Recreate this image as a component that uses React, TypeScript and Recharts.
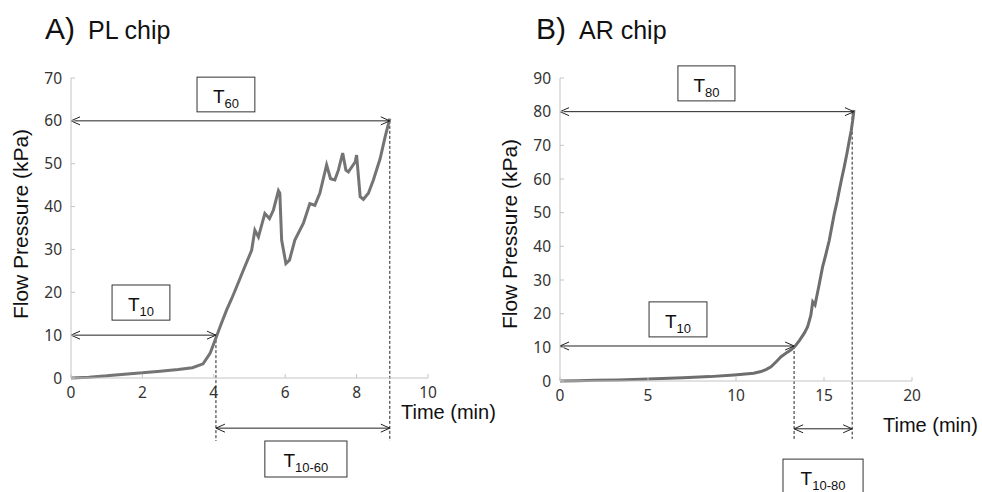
import React from 'react';
import {
  LineChart, Line, XAxis, YAxis, ReferenceLine, ReferenceArea,
} from 'recharts';

// A) PL chip
const plTime = [0, 0.5, 1, 1.5, 2, 2.5, 3, 3.4, 3.7, 3.9, 4.08, 4.2, 4.36, 4.5, 4.64, 4.83, 5.06, 5.15, 5.25, 5.43, 5.56, 5.67, 5.81, 5.85, 5.9, 6.02, 6.12, 6.27, 6.51, 6.69, 6.83, 6.97, 7.16, 7.27, 7.39, 7.49, 7.61, 7.7, 7.77, 7.96, 8.0, 8.1, 8.19, 8.33, 8.47, 8.66, 8.8, 8.93];
const plPressure = [0, 0.2, 0.5, 0.9, 1.2, 1.6, 2.0, 2.4, 3.3, 5.8, 9.8, 12.5, 15.9, 18.5, 21.3, 25.2, 29.8, 34.5, 32.9, 38.4, 37.2, 39.2, 43.7, 43.1, 32.2, 26.7, 27.5, 32.2, 36.1, 40.7, 40.3, 43.1, 49.7, 46.5, 46.2, 48.5, 52.5, 48.5, 48.1, 50.4, 52.0, 42.3, 41.7, 43.1, 46.2, 51.2, 56.3, 60.5];

// B) AR chip
const arTime = [0, 1, 2, 3.3, 5, 7, 8.5, 9.9, 11, 11.42, 11.7, 11.99, 12.3, 12.56, 12.9, 13.13, 13.35, 13.6, 13.88, 14.07, 14.25, 14.36, 14.49, 14.7, 14.92, 15.1, 15.3, 15.45, 15.59, 15.75, 15.87, 16.0, 16.15, 16.3, 16.44, 16.55, 16.63, 16.7];
const arPressure = [0, 0.1, 0.2, 0.3, 0.6, 1.0, 1.3, 1.8, 2.3, 2.8, 3.4, 4.2, 5.8, 7.2, 8.5, 9.3, 10.3, 12, 14.2, 16.1, 19.5, 23.5, 22.6, 28, 33.9, 37.5, 41.8, 46, 49.8, 53.5, 56.7, 60, 63.6, 67.5, 71.5, 74.5, 77.4, 80.5];

const plXTicks = [0, 2, 4, 6, 8, 10];
const plYTicks = [0, 10, 20, 30, 40, 50, 60, 70];
const arXTicks = [0, 5, 10, 15, 20];
const arYTicks = [0, 10, 20, 30, 40, 50, 60, 70, 80, 90];

const plData = plTime.map((t, i) => ({ t, p: plPressure[i] }));
const arData = arTime.map((t, i) => ({ t, p: arPressure[i] }));

const TEXT_FONT = '"Liberation Sans", Arial, sans-serif';
const TICK_FONT = '"Noto Sans", "Open Sans", sans-serif';

// double-headed horizontal arrow with open chevron heads
const arrowShape = (p: any) => {
  const { x1, y1, x2, y2 } = p;
  return (
    <g stroke="#222" strokeWidth={1} fill="none">
      <line x1={x1} y1={y1} x2={x2} y2={y2} />
      <polyline points={`${x1 + 9},${y1 - 4} ${x1},${y1} ${x1 + 9},${y1 + 4}`} />
      <polyline points={`${x2 - 9},${y2 - 4} ${x2},${y2} ${x2 - 9},${y2 + 4}`} />
    </g>
  );
};

const boxShape = (sub: string) => (p: any) => {
  const { x, y, width, height } = p;
  return (
    <g>
      <rect x={x} y={y} width={width} height={height} fill="#fff" stroke="#333" strokeWidth={1} />
      <text x={x + width / 2} y={y + 26} textAnchor="middle" fontFamily={TEXT_FONT} fill="#111">
        <tspan fontSize={19}>T</tspan>
        <tspan fontSize={13} dy={5}>{sub}</tspan>
      </text>
    </g>
  );
};

const axisProps = {
  stroke: '#c4c4c4',
  tickSize: -4,
  tick: { fill: '#333', fontSize: 15.5, fontFamily: TICK_FONT },
};

const dash = { stroke: '#222', strokeWidth: 1, strokeDasharray: '3 2' };

export default function App() {
  return (
    <div style={{ position: 'absolute', left: 0, top: 0, width: 982, height: 492, background: '#fff', overflow: 'hidden' }}>
      <div style={{ position: 'absolute', left: 0, top: 0 }}>
        <LineChart width={491} height={492} data={plData} margin={{ top: 78, right: 63, bottom: 84, left: 41 }}>
          <XAxis dataKey="t" type="number" domain={[0, 10]} ticks={plXTicks} height={30} tickMargin={13} {...axisProps} />
          <YAxis type="number" domain={[0, 70]} ticks={plYTicks} width={30} tickMargin={13} {...axisProps} />
          <ReferenceLine segment={[{ x: 4.06, y: 10 }, { x: 4.06, y: -14.7 }]} ifOverflow="visible" {...dash} />
          <ReferenceLine segment={[{ x: 8.93, y: 60 }, { x: 8.93, y: -14.7 }]} ifOverflow="visible" {...dash} />
          <Line dataKey="p" type="linear" stroke="#747474" strokeWidth={3} dot={false} isAnimationActive={false} />
          <ReferenceLine segment={[{ x: 0, y: 60 }, { x: 8.93, y: 60 }]} ifOverflow="visible" shape={arrowShape} />
          <ReferenceLine segment={[{ x: 0, y: 10 }, { x: 4.06, y: 10 }]} ifOverflow="visible" shape={arrowShape} />
          <ReferenceLine segment={[{ x: 4.06, y: -11.7 }, { x: 8.93, y: -11.7 }]} ifOverflow="visible" shape={arrowShape} />
          <ReferenceArea x1={3.53} x2={5.15} y1={62.1} y2={70.2} ifOverflow="visible" shape={boxShape('60')} />
          <ReferenceArea x1={1.15} x2={2.77} y1={13.5} y2={21.7} ifOverflow="visible" shape={boxShape('10')} />
          <ReferenceArea x1={5.43} x2={7.73} y1={-23.1} y2={-14.7} ifOverflow="visible" shape={boxShape('10-60')} />
        </LineChart>
      </div>
      <div style={{ position: 'absolute', left: 491, top: 0 }}>
        <LineChart width={491} height={492} data={arData} margin={{ top: 78, right: 70, bottom: 81, left: 39 }}>
          <XAxis dataKey="t" type="number" domain={[0, 20]} ticks={arXTicks} height={30} tickMargin={13} {...axisProps} />
          <YAxis type="number" domain={[0, 90]} ticks={arYTicks} width={30} tickMargin={13} {...axisProps} />
          <ReferenceLine segment={[{ x: 13.3, y: 10.4 }, { x: 13.3, y: -17.2 }]} ifOverflow="visible" {...dash} />
          <ReferenceLine segment={[{ x: 16.6, y: 80 }, { x: 16.6, y: -17.2 }]} ifOverflow="visible" {...dash} />
          <Line dataKey="p" type="linear" stroke="#6e6e6e" strokeWidth={3} dot={false} isAnimationActive={false} />
          <ReferenceLine segment={[{ x: 0, y: 80 }, { x: 16.7, y: 80 }]} ifOverflow="visible" shape={arrowShape} />
          <ReferenceLine segment={[{ x: 0, y: 10.4 }, { x: 13.3, y: 10.4 }]} ifOverflow="visible" shape={arrowShape} />
          <ReferenceLine segment={[{ x: 13.3, y: -14.2 }, { x: 16.6, y: -14.2 }]} ifOverflow="visible" shape={arrowShape} />
          <ReferenceArea x1={6.7} x2={9.94} y1={83.2} y2={93.6} ifOverflow="visible" shape={boxShape('80')} />
          <ReferenceArea x1={5.06} x2={8.35} y1={13.1} y2={23.5} ifOverflow="visible" shape={boxShape('10')} />
          <ReferenceArea x1={12.67} x2={17.22} y1={-34} y2={-23.2} ifOverflow="visible" shape={boxShape('10-80')} />
        </LineChart>
      </div>
      <svg width={982} height={492} style={{ position: 'absolute', left: 0, top: 0, pointerEvents: 'none' }} fontFamily={TEXT_FONT} fill="#111">
        <text x={45} y={39} fontSize={30}>A)</text>
        <text x={88} y={39} fontSize={25}>PL chip</text>
        <text x={536} y={39} fontSize={30}>B)</text>
        <text x={579} y={39} fontSize={25}>AR chip</text>
        <text x={401} y={419} fontSize={20}>Time (min)</text>
        <text x={883} y={432} fontSize={20}>Time (min)</text>
        <text transform="translate(28,224) rotate(-90)" textAnchor="middle" fontSize={21}>Flow Pressure (kPa)</text>
        <text transform="translate(517,234) rotate(-90)" textAnchor="middle" fontSize={21}>Flow Pressure (kPa)</text>
      </svg>
    </div>
  );
}
